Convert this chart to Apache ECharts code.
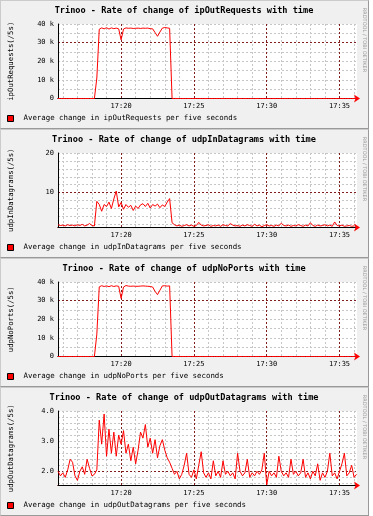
<!DOCTYPE html>
<html>
<head>
<meta charset="utf-8">
<script src="https://cdn.jsdelivr.net/npm/echarts@6/dist/echarts.min.js"></script>
<style>
  html, body { margin: 0; background: #fff; }
  #wrap { position: relative; width: 373px; height: 516px; }
  .panel {
    position: absolute; left: 0; width: 367px; height: 127px;
    background: #f0f0f0;
    border-top: 1px solid #cbcbcb; border-left: 1px solid #cbcbcb;
    border-bottom: 1px solid #999; border-right: 1px solid #999;
  }
  #chart { position: absolute; left: 0; top: 0; width: 373px; height: 516px; }
</style>
</head>
<body>
<div id="wrap">
  <div class="panel" style="top:0"></div>
  <div class="panel" style="top:129px"></div>
  <div class="panel" style="top:258px"></div>
  <div class="panel" style="top:387px"></div>
  <div id="chart"></div>
</div>
<script>
// samples every 10 s starting 17:15:40, x in seconds after 17:00
var startSec = 940;
var stepSec = 10;
var axisMin = 940;   // 17:15:40
var axisMax = 2172;  // 17:36:12
var minuteTicks = [960, 1020, 1080, 1140, 1200, 1260, 1320, 1380, 1440, 1500, 1560,
  1620, 1680, 1740, 1800, 1860, 1920, 1980, 2040, 2100, 2160];
var fiveMinTicks = [1200, 1500, 1800, 2100];

var metrics = ['ipOutRequests', 'udpInDatagrams', 'udpNoPorts', 'udpOutDatagrams'];

var ipOutRequests = [
  0, 0, 0, 0, 0, 0, 0, 0, 0, 0, 0, 0, 0, 0, 0, 0,
  11000, 37200, 37900, 37400, 38000, 37300, 37900, 37500, 37800, 37400,
  31500, 37300, 37900, 37700, 37800, 37600, 37700, 37800, 37600, 37800,
  37700, 37800, 37500, 37400, 35400, 33400, 35700, 37800, 38100, 37900, 37700,
  0, 0, 0, 0, 0, 0, 0, 0, 0, 0, 0, 0, 0, 0, 0, 0, 0, 0, 0, 0,
  0, 0, 0, 0, 0, 0, 0, 0, 0, 0, 0, 0, 0, 0, 0, 0, 0, 0, 0, 0,
  0, 0, 0, 0, 0, 0, 0, 0, 0, 0, 0, 0, 0, 0, 0, 0, 0, 0, 0, 0,
  0, 0, 0, 0, 0, 0, 0, 0, 0, 0, 0, 0, 0, 0, 0, 0, 0
];

var udpInDatagrams = [
  1.9, 1.7, 1.8, 1.6, 1.9, 1.7, 1.8, 1.6, 1.9, 1.7, 2.0, 1.6, 1.8, 2.2, 1.7, 1.6,
  7.8, 7.0, 5.3, 7.0, 6.5, 7.6, 6.0, 8.4, 10.4, 6.4,
  7.5, 5.8, 7.0, 6.3, 6.8, 5.5, 6.6, 6.0, 6.9, 7.2,
  6.5, 7.3, 6.1, 7.0, 6.6, 7.1, 6.2, 6.9, 6.5, 7.6, 8.5,
  2.4, 1.9, 1.6, 1.8, 1.5, 1.7, 1.9, 1.6, 1.8, 1.5, 1.7, 2.5, 1.8, 1.6, 1.7, 1.9,
  1.5, 1.7, 1.6, 1.8, 1.5, 1.9, 1.7, 1.6, 2.2, 1.8, 1.6, 1.7, 1.5, 1.8, 1.6, 1.9,
  1.7, 1.5, 2.0, 1.6, 1.8, 1.4, 1.7, 1.9, 1.6, 1.7, 1.5, 1.8, 1.6, 2.3, 1.7, 1.6,
  1.8, 1.5, 1.7, 1.6, 1.9, 1.7, 1.5, 1.8, 1.6, 2.4, 1.7, 1.5, 1.8, 1.6, 1.7, 1.9,
  1.6, 1.8, 1.5, 2.6, 1.7, 1.6, 1.8, 1.5, 1.6, 1.7, 1.5, 1.6
];

var udpNoPorts = [
  0, 0, 0, 0, 0, 0, 0, 0, 0, 0, 0, 0, 0, 0, 0, 0,
  12000, 37400, 38000, 37600, 37900, 37500, 38000, 37600, 37900, 37700,
  31200, 37300, 38100, 37800, 37700, 37800, 37700, 37700, 37800, 37900,
  37800, 37700, 37600, 37300, 35000, 33200, 35600, 37900, 38000, 37800, 37900,
  0, 0, 0, 0, 0, 0, 0, 0, 0, 0, 0, 0, 0, 0, 0, 0, 0, 0, 0, 0,
  0, 0, 0, 0, 0, 0, 0, 0, 0, 0, 0, 0, 0, 0, 0, 0, 0, 0, 0, 0,
  0, 0, 0, 0, 0, 0, 0, 0, 0, 0, 0, 0, 0, 0, 0, 0, 0, 0, 0, 0,
  0, 0, 0, 0, 0, 0, 0, 0, 0, 0, 0, 0, 0, 0, 0, 0, 0
];

var udpOutDatagrams = [
  2.0, 1.85, 1.95, 1.8, 2.05, 2.4, 2.3, 1.85, 1.7, 2.0, 2.15, 1.9, 2.4, 2.1, 1.85, 1.9,
  2.05, 3.7, 2.9, 3.9, 2.5, 3.4, 2.6, 3.3, 2.5, 3.2,
  2.9, 3.35, 2.6, 2.9, 2.35, 2.8, 2.25, 2.7, 3.3, 3.1,
  3.55, 2.8, 3.1, 2.6, 3.05, 2.45, 2.85, 3.05, 2.7, 2.45, 2.3,
  2.1, 1.9, 2.0, 1.75, 1.9, 2.2, 2.6, 1.9, 1.8, 2.05, 1.75, 2.2, 2.65, 1.95,
  1.8, 1.95, 1.75, 2.35, 1.85, 2.0, 1.8, 2.35, 1.9, 2.0, 1.85, 1.95, 1.75, 2.6,
  2.0, 1.85, 1.95, 2.4, 1.8, 1.95, 1.85, 2.0, 1.9, 2.05, 2.6, 1.55, 2.0, 1.85,
  1.95, 1.8, 2.5, 2.0, 1.85, 1.95, 1.8, 2.4, 1.9, 2.0, 1.85, 1.95, 2.4, 1.8,
  1.95, 1.75, 2.0, 1.85, 2.25, 1.7, 1.95, 1.8, 2.0, 2.6, 1.85, 1.95, 1.75, 2.0,
  2.25, 2.6, 1.85, 1.95, 2.2, 1.8, 1.9
];

var values = [ipOutRequests, udpInDatagrams, udpNoPorts, udpOutDatagrams];

var yMin = [0, 1.2, 0, 1.53];
var yMax = [40000, 20, 40000, 4.0];
var yMinorTicks = [
  [0, 5000, 10000, 15000, 20000, 25000, 30000, 35000, 40000],
  [2, 4, 6, 8, 10, 12, 14, 16, 18, 20],
  [0, 5000, 10000, 15000, 20000, 25000, 30000, 35000, 40000],
  [1.6, 1.8, 2.0, 2.2, 2.4, 2.6, 2.8, 3.0, 3.2, 3.4, 3.6, 3.8, 4.0]
];
var yMajorTicks = [[30000], [10], [30000], [2.0]];
var yLabels = [
  [0, 10000, 20000, 30000, 40000],
  [10, 20],
  [0, 10000, 20000, 30000, 40000],
  [2, 3, 4]
];

var panelH = 129;
var mono = '"DejaVu Sans Mono", monospace';
var gridColor = '#c6c6c6';
var majorColor = '#821e1e';

function yFormat(k) {
  if (k === 0 || k === 2) {
    return function (v) { return v === 0 ? '0' : (v / 1000) + ' k'; };
  }
  if (k === 3) {
    return function (v) { return v.toFixed(1); };
  }
  return function (v) { return String(v); };
}

function timeLabel(sec) {
  var h = 17 + Math.floor(sec / 3600);
  var m = Math.floor((sec % 3600) / 60);
  return h + ':' + (m < 10 ? '0' + m : m);
}

var titles = [], grids = [], xAxes = [], yAxes = [], legends = [], series = [], graphics = [];

metrics.forEach(function (m, k) {
  var top = k * panelH;
  var legendName = 'Average change in ' + m + ' per five seconds';

  graphics.push({
    type: 'text', x: 364, y: top + 40, rotation: -Math.PI / 2,
    style: { text: 'RRDTOOL / TOBI OETIKER', fontSize: 5, fontFamily: 'DejaVu Sans', fill: '#9a9a9a', align: 'center', verticalAlign: 'middle' }
  });

  titles.push({
    text: 'Trinoo - Rate of change of ' + m + ' with time',
    left: 184, top: top + 6, textAlign: 'center', padding: 0,
    textStyle: { fontFamily: mono, fontSize: 8.6, fontWeight: 'bold', color: '#000' }
  });

  grids.push({
    left: 53, top: top + 24, width: 304, height: 74.5,
    show: true, backgroundColor: '#fff', borderWidth: 0
  });

  // minute grid + red arrow
  xAxes.push({
    type: 'value', gridIndex: k, min: axisMin, max: axisMax, position: 'bottom',
    axisLine: { show: true, lineStyle: { color: '#ff0000', width: 1 }, symbol: ['none', 'arrow'], symbolSize: [6, 6], symbolOffset: [0, 3] },
    axisTick: { show: false, customValues: minuteTicks },
    axisLabel: { show: false },
    splitLine: { show: true, lineStyle: { color: gridColor, type: [2, 2], width: 1 } }
  });
  // five minute grid with labels
  xAxes.push({
    type: 'value', gridIndex: k, min: axisMin, max: axisMax, position: 'bottom',
    axisLine: { show: true, lineStyle: { color: '#000', width: 1 } },
    axisTick: { show: false, customValues: fiveMinTicks },
    axisLabel: {
      show: true, customValues: fiveMinTicks, formatter: timeLabel, margin: 4,
      fontFamily: mono, fontSize: 7, color: '#000'
    },
    splitLine: { show: true, lineStyle: { color: majorColor, type: [2, 2], width: 1 } }
  });

  yAxes.push({
    type: 'value', gridIndex: k, min: yMin[k], max: yMax[k], position: 'left',
    name: m + '(/5s)', nameLocation: 'middle', nameRotate: 90, nameGap: 43,
    nameTextStyle: { fontFamily: mono, fontSize: 7.3, color: '#000' },
    axisLine: { show: true, lineStyle: { color: '#000', width: 1 } },
    axisTick: { show: false, customValues: yMinorTicks[k] },
    axisLabel: {
      show: true, customValues: yLabels[k], formatter: yFormat(k), margin: 4,
      fontFamily: mono, fontSize: 7, color: '#000'
    },
    splitLine: { show: true, lineStyle: { color: gridColor, type: [2, 2], width: 1 } }
  });
  yAxes.push({
    type: 'value', gridIndex: k, min: yMin[k], max: yMax[k], position: 'left',
    axisLine: { show: false },
    axisTick: { show: false, customValues: yMajorTicks[k] },
    axisLabel: { show: false },
    splitLine: { show: true, lineStyle: { color: majorColor, type: [2, 2], width: 1 } }
  });

  legends.push({
    data: [legendName], left: 7, top: top + 115, padding: 0,
    icon: 'rect', itemWidth: 6, itemHeight: 6,
    itemStyle: { borderColor: '#000', borderWidth: 1 },
    textStyle: { fontFamily: mono, fontSize: 7.4, color: '#000', padding: [0, 0, 0, 5] },
    selectedMode: false
  });

  series.push({
    name: legendName, type: 'line',
    xAxisIndex: 2 * k + 1, yAxisIndex: 2 * k,
    data: values[k].map(function (v, i) { return [startSec + i * stepSec, v]; }),
    showSymbol: false, symbol: 'none',
    lineStyle: { color: '#ff0000', width: 1 },
    itemStyle: { color: '#ff0000' },
    animation: false
  });
});

var chart = echarts.init(document.getElementById('chart'));
chart.setOption({
  backgroundColor: 'transparent',
  animation: false,
  title: titles,
  grid: grids,
  xAxis: xAxes,
  yAxis: yAxes,
  legend: legends,
  series: series,
  graphic: graphics
});
</script>
</body>
</html>
